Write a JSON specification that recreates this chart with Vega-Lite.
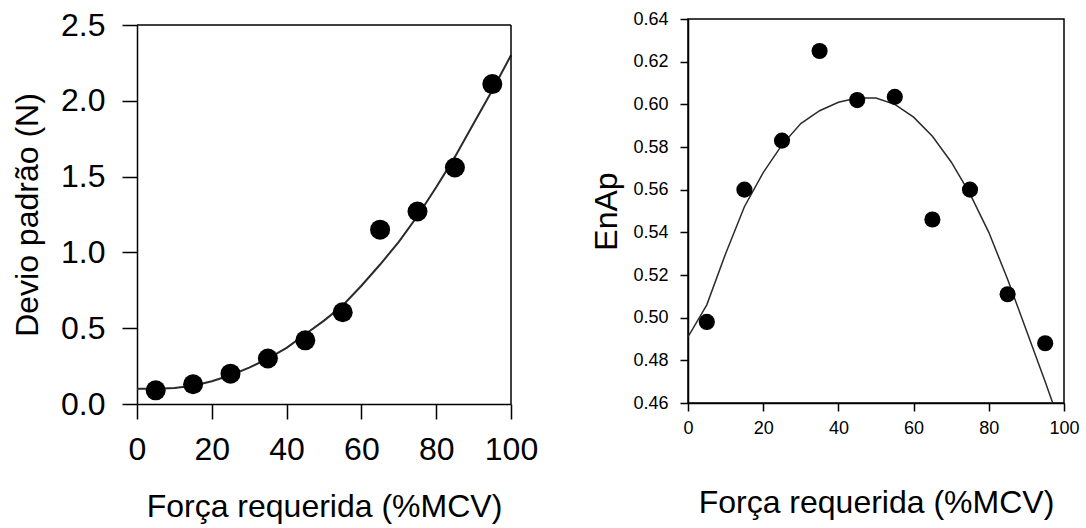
{
  "$schema": "https://vega.github.io/schema/vega-lite/v6.json",
  "background": "white",
  "padding": {"left": 11, "top": 9, "right": 5, "bottom": 5},
  "spacing": 52,
  "datasets": {
    "leftPoints": [
      {"forca": 5, "dp": 0.09},
      {"forca": 15, "dp": 0.13},
      {"forca": 25, "dp": 0.20},
      {"forca": 35, "dp": 0.30},
      {"forca": 45, "dp": 0.42},
      {"forca": 55, "dp": 0.605},
      {"forca": 65, "dp": 1.15},
      {"forca": 75, "dp": 1.27},
      {"forca": 85, "dp": 1.56},
      {"forca": 95, "dp": 2.11}
    ],
    "leftCurve": [
      {"forca": 0, "dp": 0.10},
      {"forca": 5, "dp": 0.10},
      {"forca": 10, "dp": 0.105},
      {"forca": 15, "dp": 0.12},
      {"forca": 20, "dp": 0.15},
      {"forca": 25, "dp": 0.19},
      {"forca": 30, "dp": 0.24},
      {"forca": 35, "dp": 0.30},
      {"forca": 40, "dp": 0.37},
      {"forca": 45, "dp": 0.46},
      {"forca": 50, "dp": 0.55},
      {"forca": 55, "dp": 0.65},
      {"forca": 60, "dp": 0.78},
      {"forca": 65, "dp": 0.92},
      {"forca": 70, "dp": 1.07},
      {"forca": 75, "dp": 1.24},
      {"forca": 80, "dp": 1.43},
      {"forca": 85, "dp": 1.63},
      {"forca": 90, "dp": 1.85},
      {"forca": 95, "dp": 2.07},
      {"forca": 100, "dp": 2.30}
    ],
    "rightPoints": [
      {"forca": 5, "enap": 0.498},
      {"forca": 15, "enap": 0.560},
      {"forca": 25, "enap": 0.583},
      {"forca": 35, "enap": 0.625},
      {"forca": 45, "enap": 0.602},
      {"forca": 55, "enap": 0.6035},
      {"forca": 65, "enap": 0.546},
      {"forca": 75, "enap": 0.560},
      {"forca": 85, "enap": 0.511},
      {"forca": 95, "enap": 0.488}
    ],
    "rightCurve": [
      {"forca": 0, "enap": 0.491},
      {"forca": 5, "enap": 0.506},
      {"forca": 10, "enap": 0.530},
      {"forca": 15, "enap": 0.552},
      {"forca": 20, "enap": 0.568},
      {"forca": 25, "enap": 0.581},
      {"forca": 30, "enap": 0.591},
      {"forca": 35, "enap": 0.597},
      {"forca": 40, "enap": 0.601},
      {"forca": 45, "enap": 0.603},
      {"forca": 50, "enap": 0.603},
      {"forca": 55, "enap": 0.600},
      {"forca": 60, "enap": 0.594},
      {"forca": 65, "enap": 0.585},
      {"forca": 70, "enap": 0.573},
      {"forca": 75, "enap": 0.558},
      {"forca": 80, "enap": 0.540},
      {"forca": 85, "enap": 0.518},
      {"forca": 90, "enap": 0.494},
      {"forca": 95, "enap": 0.470},
      {"forca": 97, "enap": 0.460}
    ]
  },
  "hconcat": [
    {
      "width": 374,
      "height": 385,
      "view": {"stroke": null},
      "layer": [
        {
          "data": {"name": "leftCurve"},
          "mark": {"type": "line", "color": "#2a2a2a", "strokeWidth": 2},
          "encoding": {
            "x": {
              "field": "forca", "type": "quantitative",
              "scale": {"domain": [0, 100], "nice": false},
              "axis": {
                "values": [0, 20, 40, 60, 80, 100],
                "title": "Força requerida (%MCV)",
                "labelFontSize": 32, "titleFontSize": 32,
                "tickSize": 15, "labelPadding": 15, "titlePadding": 26
              }
            },
            "y": {
              "field": "dp", "type": "quantitative",
              "scale": {"domain": [0, 2.5], "nice": false, "zero": false, "range": [385, 6]},
              "axis": {
                "values": [0, 0.5, 1, 1.5, 2, 2.5],
                "format": ".1f",
                "title": "Devio padrão (N)",
                "labelFontSize": 32, "titleFontSize": 32,
                "tickSize": 15, "labelPadding": 17, "titlePadding": 16
              }
            }
          }
        },
        {
          "data": {"name": "leftPoints"},
          "mark": {"type": "circle", "size": 400, "color": "black", "opacity": 1},
          "encoding": {
            "x": {"field": "forca", "type": "quantitative"},
            "y": {"field": "dp", "type": "quantitative"}
          }
        },
        {
          "data": {"values": [{}]},
          "mark": {"type": "rule", "color": "black", "strokeWidth": 1.5},
          "encoding": {
            "y": {"datum": 2.5, "type": "quantitative"}
          }
        },
        {
          "data": {"values": [{}]},
          "mark": {"type": "rule", "color": "black", "strokeWidth": 1.5},
          "encoding": {
            "x": {"datum": 100, "type": "quantitative"},
            "y": {"datum": 0, "type": "quantitative"},
            "y2": {"datum": 2.5}
          }
        }
      ]
    },
    {
      "width": 376,
      "height": 384,
      "encoding": {
        "x": {
          "field": "forca", "type": "quantitative",
          "scale": {"domain": [0, 100], "nice": false},
          "axis": {
            "values": [0, 20, 40, 60, 80, 100],
            "title": "Força requerida (%MCV)",
            "labelFontSize": 18, "titleFontSize": 32,
            "tickSize": 8, "labelPadding": 8, "titlePadding": 50
          }
        },
        "y": {
          "field": "enap", "type": "quantitative",
          "scale": {"domain": [0.46, 0.64], "nice": false, "zero": false},
          "axis": {
            "values": [0.46, 0.48, 0.5, 0.52, 0.54, 0.56, 0.58, 0.6, 0.62, 0.64],
            "format": ".2f",
            "title": "EnAp",
            "labelFontSize": 18, "titleFontSize": 32,
            "tickSize": 8, "labelPadding": 12, "titlePadding": 9
          }
        }
      },
      "layer": [
        {
          "data": {"name": "rightCurve"},
          "mark": {"type": "line", "color": "#2a2a2a", "strokeWidth": 1.5, "clip": true}
        },
        {
          "data": {"name": "rightPoints"},
          "mark": {"type": "circle", "size": 260, "color": "black", "opacity": 1}
        }
      ]
    }
  ],
  "config": {
    "view": {"stroke": "black", "strokeWidth": 1.5},
    "axis": {
      "grid": false,
      "domainColor": "black",
      "domainWidth": 1.5,
      "tickColor": "black",
      "tickWidth": 1.5,
      "labelColor": "black",
      "titleColor": "black",
      "labelFont": "Liberation Sans",
      "titleFont": "Liberation Sans",
      "titleFontWeight": "normal",
      "labelFlush": false,
      "labelOverlap": false
    }
  }
}
